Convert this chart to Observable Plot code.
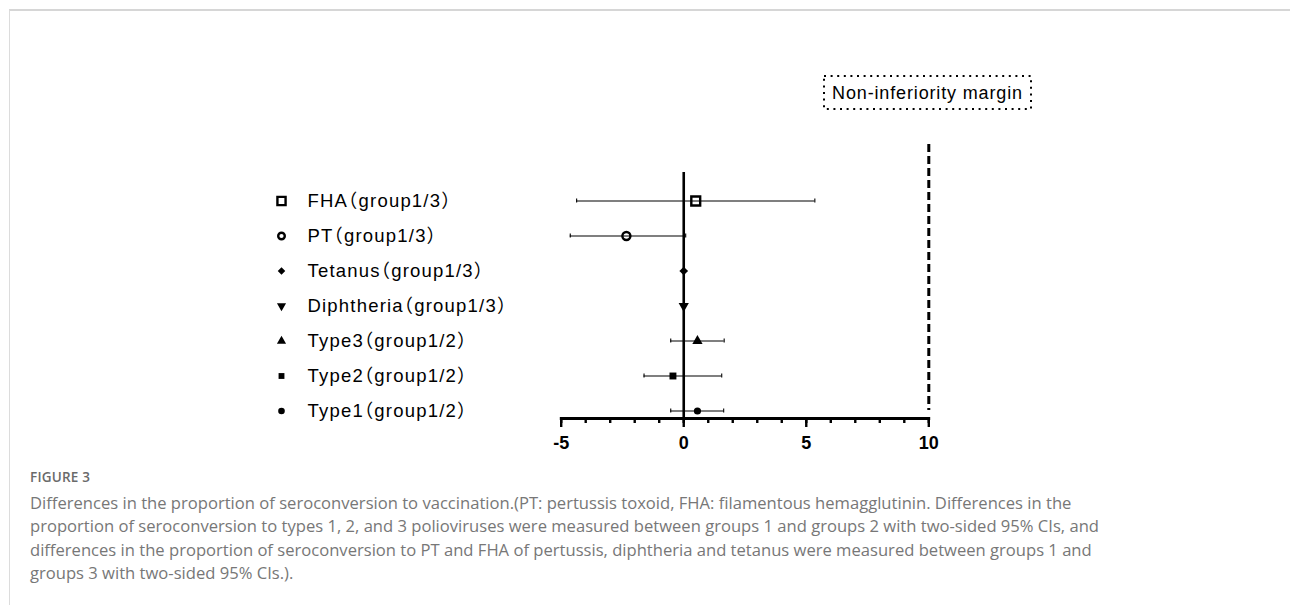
<!DOCTYPE html>
<html>
<head>
<meta charset="utf-8">
<script src="https://cdn.jsdelivr.net/npm/d3@7"></script>
<script src="https://cdn.jsdelivr.net/npm/@observablehq/plot@0.6"></script>
<style>
  html, body { margin: 0; padding: 0; background: #fff; width: 1290px; height: 605px; overflow: hidden; }
  #frame { position: absolute; left: 9px; top: 9px; width: 1290px; height: 600px;
           border-top: 2px solid #d6d6d6; border-left: 1px solid #dcdcdc; }
  #chart { position: absolute; left: 0; top: 0; }
  #box { position: absolute; left: 822px; top: 74px; }
  #caption { position: absolute; left: 30px; top: 466px; font-family: "Open Sans", sans-serif; color: #777; }
  #caption .fig { font-size: 13.5px; font-weight: 600; color: #6a6a6a; letter-spacing: 0.2px; line-height: 22px; }
  #caption .txt { font-size: 16.6px; line-height: 23.3px; white-space: nowrap; margin-top: 3px; }
</style>
</head>
<body>
<div id="frame"></div>
<div id="chart"></div>
<svg id="box" width="212" height="38">
  <rect x="2" y="2" width="207" height="33" fill="none" stroke="#000" stroke-width="2" stroke-dasharray="2 4.6" stroke-linecap="butt"></rect>
  <text x="105.5" y="25" text-anchor="middle" font-family="Liberation Sans, Arial, sans-serif" font-size="18px" letter-spacing="0.85px" fill="#000">Non-inferiority margin</text>
</svg>
<div id="caption">
  <div class="fig">FIGURE 3</div>
  <div class="txt">Differences in the proportion of seroconversion to vaccination.(PT: pertussis toxoid, FHA: filamentous hemagglutinin. Differences in the<br>proportion of seroconversion to types 1, 2, and 3 polioviruses were measured between groups 1 and groups 2 with two-sided 95% CIs, and<br>differences in the proportion of seroconversion to PT and FHA of pertussis, diphtheria and tetanus were measured between groups 1 and<br>groups 3 with two-sided 95% CIs.).</div>
</div>
<script>
// ---- data ----
const categories = ["FHA（group1/3）", "PT（group1/3）", "Tetanus（group1/3）", "Diphtheria（group1/3）", "Type3（group1/2）", "Type2（group1/2）", "Type1（group1/2）"];
const estimate = [0.49, -2.34, 0.0, 0.0, 0.56, -0.44, 0.56];
const lower    = [-4.37, -4.63, 0.0, 0.0, -0.53, -1.62, -0.53];
const upper    = [5.35, 0.08, 0.0, 0.0, 1.65, 1.55, 1.63];
const majorTicks = [-5, 0, 5, 10];
const margin = 10; // non-inferiority margin

const rows = categories.map((c, i) => ({label: c, est: estimate[i], lo: lower[i], hi: upper[i]}));

// ---- styling ----
const triangleDown = {
  draw(context, size) {
    const y = -Math.sqrt(size / (Math.sqrt(3) * 3));
    context.moveTo(0, -y * 2);
    context.lineTo(-Math.sqrt(3) * y, y);
    context.lineTo(Math.sqrt(3) * y, y);
    context.closePath();
  }
};
const markerStyle = [
  {symbol: "square",   fill: "none", stroke: "#000", strokeWidth: 2.4, r: 5.0, lr: 4.6},
  {symbol: "circle",   fill: "none", stroke: "#000", strokeWidth: 2.4, r: 4.0, lr: 3.3},
  {symbol: "diamond2", fill: "#000", stroke: "none", r: 3.9, lr: 3.4},
  {symbol: triangleDown, fill: "#000", stroke: "none", r: 3.8, lr: 3.4},
  {symbol: "triangle", fill: "#000", stroke: "none", r: 3.8, lr: 3.4},
  {symbol: "square",   fill: "#000", stroke: "none", r: 3.9, lr: 3.3},
  {symbol: "circle",   fill: "#000", stroke: "none", r: 3.6, lr: 3.3}
];

const W = 1290, H = 462;
const mL = 560.7, mR = W - 928.3, mT = 140, mB = H - 418;
const legendDotDx = 281 - mL;
const legendTextDx = 307 - mL;

const marks = [];
// legend text
marks.push(Plot.text(rows, {y: "label", text: "label", frameAnchor: "left", dx: legendTextDx, textAnchor: "start",
  fontSize: 18.5, fontFamily: "Liberation Sans, Arial, Noto Sans CJK SC, sans-serif", fill: "#000", className: "legend-label"}));
// zero line
marks.push(Plot.ruleX([0], {stroke: "#000", strokeWidth: 2.6, insetTop: 32}));
// non-inferiority margin
marks.push(Plot.ruleX([margin], {stroke: "#000", strokeWidth: 3, strokeDasharray: "8 4", insetTop: 4, insetBottom: 8}));
// CI whiskers
marks.push(Plot.ruleY(rows.filter(d => d.hi > d.lo), {y: "label", x1: "lo", x2: "hi", stroke: "#000", strokeWidth: 1.1}));
marks.push(Plot.tickX(rows.filter(d => d.hi > d.lo), {y: "label", x: "lo", stroke: "#000", strokeWidth: 1.1, insetTop: 15.5, insetBottom: 15.5}));
marks.push(Plot.tickX(rows.filter(d => d.hi > d.lo), {y: "label", x: "hi", stroke: "#000", strokeWidth: 1.1, insetTop: 15.5, insetBottom: 15.5}));
// points + legend markers
rows.forEach((d, i) => {
  const s = markerStyle[i];
  marks.push(Plot.dot([d], {x: "est", y: "label", symbol: s.symbol, r: s.r, fill: s.fill, stroke: s.stroke, strokeWidth: s.strokeWidth}));
  marks.push(Plot.dot([d], {y: "label", frameAnchor: "left", dx: legendDotDx, symbol: s.symbol, r: s.lr, fill: s.fill, stroke: s.stroke, strokeWidth: s.strokeWidth}));
});
// axis
marks.push(Plot.axisX(d3.range(-5, 11), {tickSize: 5, text: null, strokeWidth: 2.4, stroke: "#000"}));
marks.push(Plot.axisX(majorTicks, {tickSize: 9, tickPadding: 9, strokeWidth: 2.4, stroke: "#000", fill: "#000",
  fontSize: 18, fontWeight: "bold", fontFamily: "Liberation Sans, Arial, sans-serif", tickFormat: d => d < 0 ? "-" + Math.abs(d) : String(d)}));
marks.push(Plot.frame({anchor: "bottom", stroke: "#000", strokeWidth: 2.8}));

const chart = Plot.plot({
  width: W, height: H,
  marginLeft: mL, marginRight: mR, marginTop: mT, marginBottom: mB,
  x: {domain: [-5, 10], axis: null},
  y: {type: "band", domain: categories, range: [181.25, 429.75], padding: 0, axis: null},
  style: {background: "transparent", overflow: "visible"},
  marks
});
document.getElementById("chart").appendChild(chart);
// half-width CJK punctuation and slight tracking for legend labels
chart.querySelectorAll(".legend-label text, text.legend-label").forEach(t => {
  t.style.fontFeatureSettings = '"halt" 1';
  t.style.letterSpacing = "1.2px";
});
</script>
</body>
</html>
